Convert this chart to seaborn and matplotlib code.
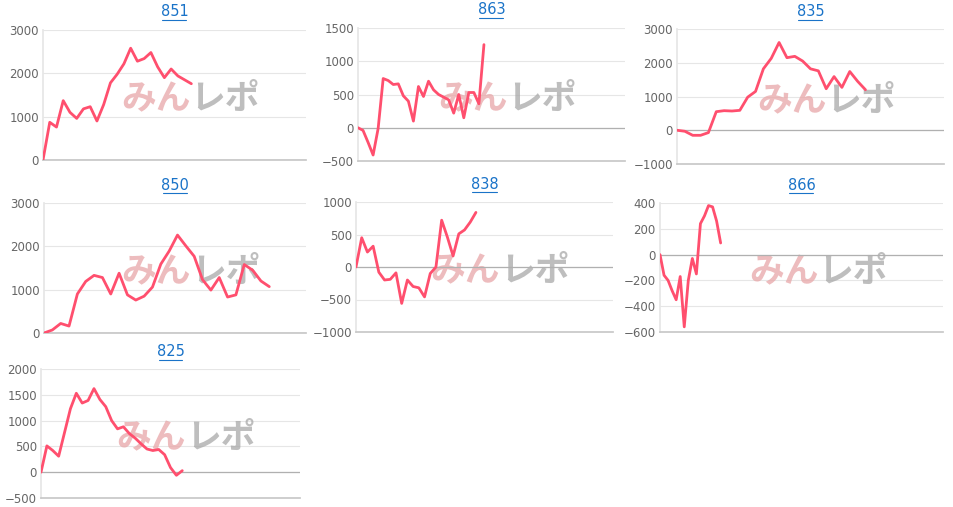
import matplotlib.pyplot as plt
import seaborn as sns
import pandas as pd

titles = ["851", "863", "835", "850", "838", "866", "825"]

v851 = [0, 870, 760, 1370, 1100, 960, 1180, 1230, 900, 1280, 1780, 1980, 2220, 2580,
        2280, 2340, 2480, 2150, 1900, 2100, 1940, 1850, 1760]
v863 = [0, -40, -220, -410, -10, 740, 710, 650, 660, 480, 400, 100, 620, 470, 700, 570,
        500, 460, 420, 220, 500, 150, 530, 530, 360, 1250]
v835 = [0, -30, -150, -150, -70, 550, 580, 570, 590, 980, 1150, 1820, 2130, 2600, 2150,
        2190, 2050, 1820, 1760, 1230, 1590, 1270, 1740, 1450, 1200]
v850 = [0, 70, 220, 160, 900, 1190, 1330, 1280, 900, 1380, 880, 760, 850, 1060, 1590,
        1890, 2260, 2010, 1770, 1230, 990, 1280, 830, 880, 1580, 1450, 1200, 1070]
v838 = [0, 450, 230, 320, -80, -200, -190, -90, -560, -200, -300, -320, -460, -100, 0,
        720, 460, 170, 510, 570, 690, 840]
v866 = [0, -160, -200, -280, -350, -170, -560, -200, -30, -150, 240, 300, 380, 370, 260, 90]
v825 = [0, 510, 420, 310, 770, 1230, 1530, 1340, 1390, 1620, 1410, 1270, 1000, 840, 880,
        750, 660, 550, 450, 420, 440, 340, 90, -60, 30]

series = [v851, v863, v835, v850, v838, v866, v825]
x_slots = [39, 53, 34, 31.4, 45, 70, 44]
y_lims = [(0, 3000), (-500, 1500), (-1000, 3000), (0, 3000), (-1000, 1000), (-600, 400), (-500, 2000)]
y_ticks = [[0, 1000, 2000, 3000], [-500, 0, 500, 1000, 1500], [-1000, 0, 1000, 2000, 3000],
           [0, 1000, 2000, 3000], [-1000, -500, 0, 500, 1000],
           [-600, -400, -200, 0, 200, 400], [-500, 0, 500, 1000, 1500, 2000]]
# axes boxes in pixels: left, right, top, bottom
boxes = [(43, 306, 30, 160), (358, 625, 28, 161), (677, 944, 29, 164),
         (44, 306, 203, 333), (356, 613, 202, 332), (660, 943, 203, 332),
         (41, 300, 369, 498)]
title_y = [12, 10, 12, 185, 184, 185, 352]

W, H = 954, 507
sns.set_theme(style="white")
plt.rcParams["font.family"] = ["DejaVu Sans"]
fig = plt.figure(figsize=(W / 100, H / 100), dpi=100)

for i, vals in enumerate(series):
    l, r, t, b = boxes[i]
    ax = fig.add_axes([l / W, 1 - b / H, (r - l) / W, (b - t) / H])
    df = pd.DataFrame({"x": range(len(vals)), "y": vals})
    # watermark
    cx = 0.555
    ax.text(cx + 0.005, 0.47, "みん", transform=ax.transAxes, ha="right", va="center",
            fontsize=25, fontweight="bold", style="italic", color="#e8a6a8", alpha=0.75,
            family=["Noto Sans CJK JP", "DejaVu Sans"], zorder=1)
    ax.text(cx + 0.005, 0.47, "レポ", transform=ax.transAxes, ha="left", va="center",
            fontsize=25, fontweight="bold", style="italic", color="#a8a8a8", alpha=0.75,
            family=["Noto Sans CJK JP", "DejaVu Sans"], zorder=1)
    sns.lineplot(data=df, x="x", y="y", ax=ax, color="#ff4f6e", linewidth=2, zorder=3)
    ax.set_xlim(0, x_slots[i])
    ax.set_ylim(*y_lims[i])
    ax.set_yticks(y_ticks[i])
    ax.set_xticks([])
    ax.set_xlabel("")
    ax.set_ylabel("")
    ax.grid(axis="y", color="#e6e6e6", linewidth=0.8)
    ax.axhline(0, color="#b0b0b0", linewidth=0.9, zorder=2)
    ax.tick_params(axis="y", labelsize=8.5, labelcolor="#666666", length=0, pad=3)
    for s in ["top", "right"]:
        ax.spines[s].set_visible(False)
    ax.spines["left"].set_color("#e6e6e6")
    ax.spines["bottom"].set_color("#c8c8c8")
    fig.text((l + r) / 2 / W, 1 - title_y[i] / H, titles[i], ha="center", va="center",
             fontsize=10.5, color="#1a73c8")
    # underline
    fig.add_artist(plt.Line2D([((l + r) / 2 - 12) / W, ((l + r) / 2 + 12) / W],
                              [1 - (title_y[i] + 8) / H] * 2, color="#1a73c8", linewidth=0.8))

fig.savefig("out.png", dpi=100)
